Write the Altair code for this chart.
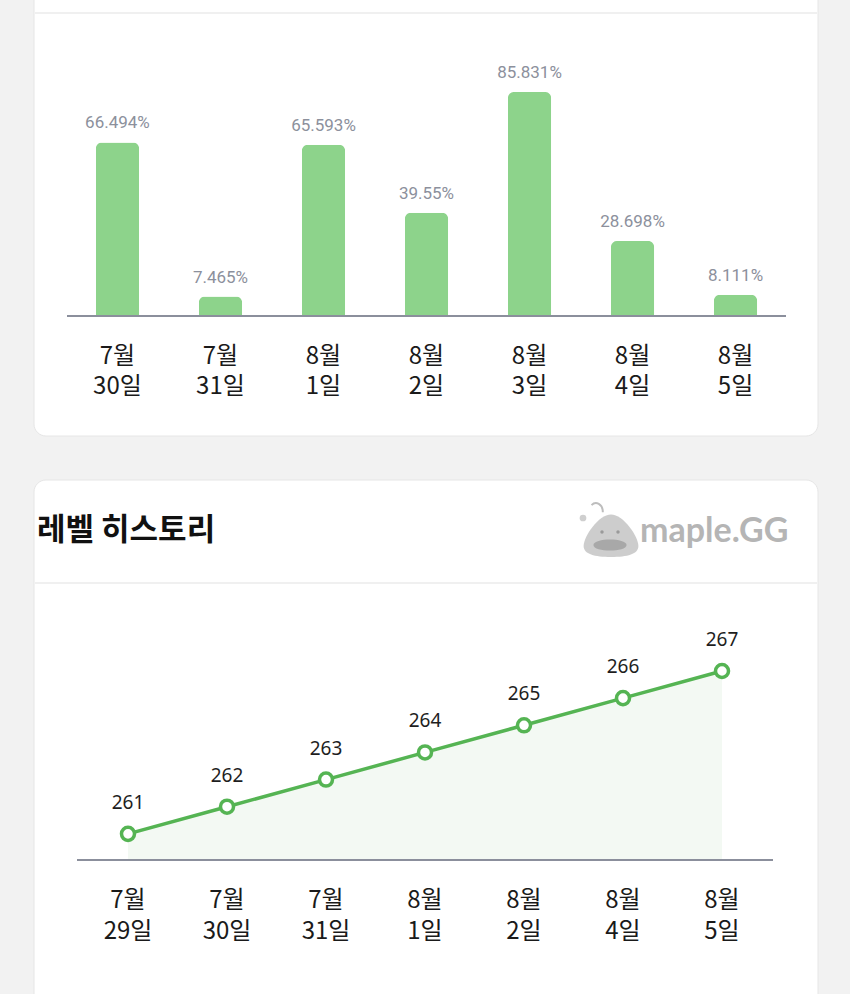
import altair as alt
import pandas as pd

# ---- data ----
exp_months = ["7월", "7월", "8월", "8월", "8월", "8월", "8월"]
exp_days = ["30일", "31일", "1일", "2일", "3일", "4일", "5일"]
exp_values = [66.494, 7.465, 65.593, 39.55, 85.831, 28.698, 8.111]

lvl_months = ["7월", "7월", "7월", "8월", "8월", "8월", "8월"]
lvl_days = ["29일", "30일", "31일", "1일", "2일", "4일", "5일"]
lvl_values = [261, 262, 263, 264, 265, 266, 267]

title_text = "레벨 히스토리"
logo_text = "maple.GG"

exp_df = pd.DataFrame({
    "date": [m + " " + d for m, d in zip(exp_months, exp_days)],
    "label": [m + "\n" + d for m, d in zip(exp_months, exp_days)],
    "value": exp_values,
    "pct": [f"{v}%" for v in exp_values],
})
lvl_df = pd.DataFrame({
    "date": [m + " " + d for m, d in zip(lvl_months, lvl_days)],
    "label": [m + "\n" + d for m, d in zip(lvl_months, lvl_days)],
    "level": lvl_values,
    "base": [260] * len(lvl_values),
})
one = pd.DataFrame({"k": [0]})

FONT = "Noto Sans CJK KR"
BAR = "#8dd38b"
LINE = "#55b453"
AXIS = "#8b8f9c"

# ---- scales ----
bx = alt.Scale(type="band", domain=list(exp_df["date"]), range=[67, 786],
               paddingInner=0.58, paddingOuter=0.28)
by = alt.Scale(domain=[0, 100], range=[316, 55], nice=False, zero=True)
lx = alt.Scale(type="point", domain=list(lvl_df["date"]), range=[128, 722], padding=0)
ly = alt.Scale(domain=[260, 267], range=[861, 671], nice=False, zero=False)

# ---- card decorations ----
def card(y0, y1):
    return alt.Chart(one).mark_rect(
        fill="white", stroke="#e6e6e6", strokeWidth=1, cornerRadius=12
    ).encode(x=alt.value(34), x2=alt.value(818), y=alt.value(y0), y2=alt.value(y1))

def hline(y, x0=35, x1=817, color="#ebebeb", w=1.5):
    return alt.Chart(one).mark_rule(color=color, strokeWidth=w).encode(
        x=alt.value(x0), x2=alt.value(x1), y=alt.value(y))

card1 = card(-30, 436)
div1 = hline(13)
card2 = card(480, 1030)
div2 = hline(583)

title = alt.Chart(one).mark_text(
    text=title_text, font=FONT, fontSize=31, fontWeight="bold", color="#111111",
    align="left", baseline="middle"
).encode(x=alt.value(37), y=alt.value(531))

logo_antenna = alt.Chart(one).mark_point(
    shape="M0.2,-0.2 C0.2,-0.8 -0.3,-1 -0.6,-0.7",
    filled=False, color="#bdbdbd", strokeWidth=2, opacity=1, size=800
).encode(x=alt.value(600), y=alt.value(515))
logo_ball = alt.Chart(one).mark_point(
    shape="circle", filled=True, color="#cfcfcf", opacity=1, size=45
).encode(x=alt.value(583), y=alt.value(518))
logo_blob = alt.Chart(one).mark_point(
    shape="M0,-0.75 C0.45,-0.75 1,0.05 1,0.4 C1,0.7 0.6,0.8 0,0.8 C-0.6,0.8 -1,0.7 -1,0.4 C-1,0.05 -0.45,-0.75 0,-0.75 Z",
    filled=True, color="#cdcdcd", opacity=1, size=3000
).encode(x=alt.value(611), y=alt.value(535))
logo_mouth = alt.Chart(one).mark_point(
    shape="M-1,0 C-1,-0.45 1,-0.45 1,0 C1,0.45 -1,0.45 -1,0 Z",
    filled=True, color="#a8a8a8", opacity=1, size=1100
).encode(x=alt.value(610), y=alt.value(545))
logo_eyes = alt.Chart(pd.DataFrame({"k": [0, 1]})).mark_point(
    shape="circle", filled=True, color="#9a9a9a", opacity=1, size=12
).encode(x=alt.X("k:Q", scale=alt.Scale(domain=[0, 1], range=[602, 618]), axis=None),
         y=alt.value(532))
logo_word = alt.Chart(one).mark_text(
    text=logo_text, font="Lato", fontSize=34, fontWeight="bold", color="#b5b5b5",
    align="left", baseline="middle"
).encode(x=alt.value(640), y=alt.value(532))

# ---- bar chart ----
bars = alt.Chart(exp_df).mark_bar(
    color=BAR, cornerRadiusTopLeft=6, cornerRadiusTopRight=6
).encode(
    x=alt.X("date:N", scale=bx, axis=None, sort=None),
    y=alt.Y("value:Q", scale=by, axis=None),
)
bar_labels = alt.Chart(exp_df).mark_text(
    font="Roboto", fontSize=17, color="#8c909c", baseline="middle", dy=-19
).encode(
    x=alt.X("date:N", scale=bx, axis=None, sort=None),
    y=alt.Y("value:Q", scale=by, axis=None),
    text="pct:N",
)
bar_axis = alt.Chart(one).mark_rule(color=AXIS, strokeWidth=2).encode(
    x=alt.value(67), x2=alt.value(786),
    y=alt.Y("k:Q", scale=by, axis=None),
)
bar_dates = alt.Chart(exp_df).mark_text(
    font=FONT, fontSize=24, color="#1a1a1a", lineBreak="\n", lineHeight=30,
    baseline="middle"
).encode(
    x=alt.X("date:N", scale=bx, axis=None, sort=None),
    y=alt.value(357),
    text="label:N",
)

# ---- line chart ----
area = alt.Chart(lvl_df).mark_area(color="#f3f9f3", opacity=1).encode(
    x=alt.X("date:N", scale=lx, axis=None, sort=None),
    y=alt.Y("level:Q", scale=ly, axis=None),
    y2="base:Q",
)
line = alt.Chart(lvl_df).mark_line(color=LINE, strokeWidth=3.5).encode(
    x=alt.X("date:N", scale=lx, axis=None, sort=None),
    y=alt.Y("level:Q", scale=ly, axis=None),
)
pts = alt.Chart(lvl_df).mark_point(
    shape="circle", filled=True, fill="white", stroke=LINE, strokeWidth=3.5,
    size=170, opacity=1
).encode(
    x=alt.X("date:N", scale=lx, axis=None, sort=None),
    y=alt.Y("level:Q", scale=ly, axis=None),
)
lvl_labels = alt.Chart(lvl_df).mark_text(
    font="Noto Sans", fontSize=19, color="#1e1e1e", baseline="middle", dy=-31
).encode(
    x=alt.X("date:N", scale=lx, axis=None, sort=None),
    y=alt.Y("level:Q", scale=ly, axis=None),
    text="level:Q",
)
line_axis = alt.Chart(one).mark_rule(color=AXIS, strokeWidth=2).encode(
    x=alt.value(77), x2=alt.value(773), y=alt.value(860),
)
lvl_dates = alt.Chart(lvl_df).mark_text(
    font=FONT, fontSize=24, color="#1a1a1a", lineBreak="\n", lineHeight=31,
    baseline="middle"
).encode(
    x=alt.X("date:N", scale=lx, axis=None, sort=None),
    y=alt.value(901),
    text="label:N",
)

chart = alt.layer(
    card1, div1, card2, div2, title,
    logo_antenna, logo_ball, logo_blob, logo_mouth, logo_eyes, logo_word,
    bars, bar_labels, bar_axis, bar_dates,
    area, line_axis, line, pts, lvl_labels, lvl_dates,
).resolve_scale(x="independent", y="independent").properties(
    width=850, height=994, autosize="none", padding=0, background="#f2f2f2"
).configure_view(stroke=None)

chart.save("out.html", embed_options={"renderer": "svg", "actions": False})
